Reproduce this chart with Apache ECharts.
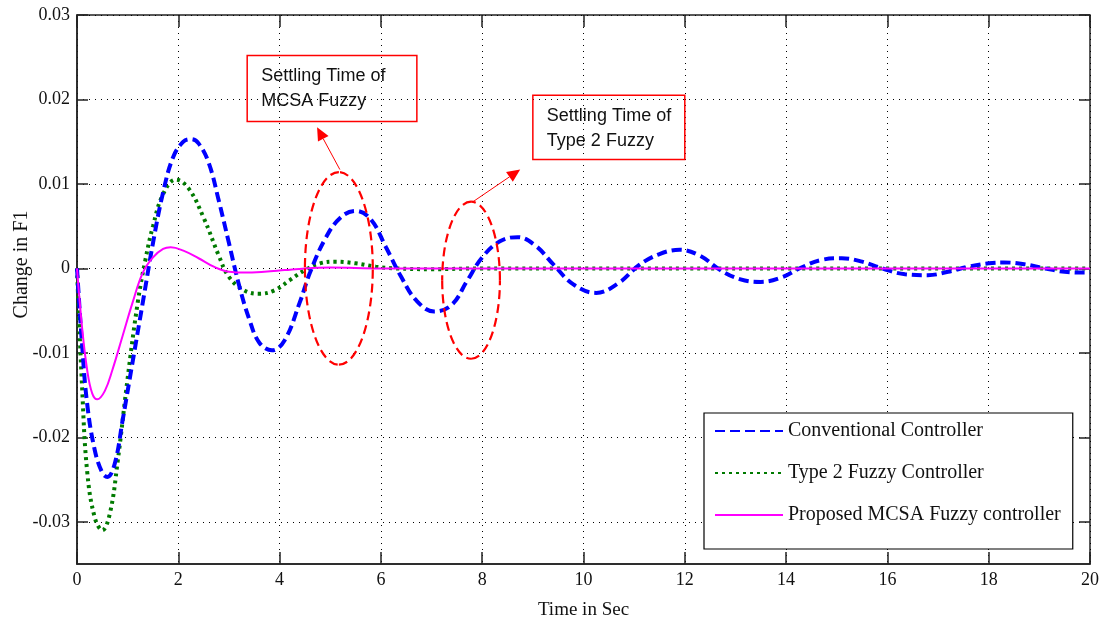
<!DOCTYPE html>
<html lang="en">
<head>
<meta charset="utf-8">
<title>Change in F1</title>
<script src="https://cdn.jsdelivr.net/npm/echarts@6/dist/echarts.min.js"></script>
<style>
    html, body { margin: 0; padding: 0; background: #fff; }
    #container { width: 1103px; height: 619px; }
</style>
</head>
<body>
<div id="container"></div>
<script>
    // values (time in s, change in F1)
    const convTime = [0, 0.1, 0.2, 0.35, 0.5, 0.6, 0.75, 0.9, 1.1, 1.3, 1.5, 1.7, 1.9, 2.1, 2.25, 2.4, 2.6, 2.8, 3.0, 3.2, 3.4, 3.6, 3.85, 4.1, 4.4, 4.6, 4.9, 5.2, 5.5, 5.8, 6.1, 6.4, 6.7, 7.05, 7.4, 7.7, 8.0, 8.35, 8.7, 9.05, 9.4, 9.8, 10.25, 10.7, 11.1, 11.5, 11.9, 12.3, 12.7, 13.1, 13.5, 13.9, 14.3, 14.7, 15.1, 15.5, 15.9, 16.35, 16.8, 17.2, 17.6, 18.0, 18.3, 18.7, 19.1, 19.5, 19.9, 20];
    const convValue = [0, -0.009, -0.016, -0.0215, -0.0242, -0.0247, -0.023, -0.018, -0.011, -0.004, 0.003, 0.009, 0.0132, 0.015, 0.0153, 0.0148, 0.0125, 0.008, 0.003, -0.002, -0.006, -0.0088, -0.0097, -0.0085, -0.004, -0.0005, 0.0035, 0.006, 0.0068, 0.0058, 0.0025, -0.001, -0.0038, -0.0051, -0.0043, -0.0015, 0.0013, 0.0032, 0.0037, 0.0027, 0.0005, -0.0019, -0.0029, -0.0017, 0.0004, 0.0017, 0.0022, 0.0015, -0.0002, -0.0013, -0.0016, -0.0011, 0.0001, 0.001, 0.0012, 0.0008, 0, -0.0007, -0.0008, -0.0004, 0.0002, 0.0006, 0.0007, 0.0005, 0, -0.0004, -0.0005, -0.0005];

    const type2Time = [0, 0.1, 0.2, 0.35, 0.5, 0.65, 0.8, 1.0, 1.2, 1.35, 1.5, 1.7, 1.95, 2.2, 2.5, 2.8, 3.0, 3.3, 3.6, 3.9, 4.2, 4.5, 4.8, 5.1, 5.5, 5.9, 6.3, 7, 8, 10, 12, 14, 16, 18, 20];
    const type2Value = [0, -0.014, -0.024, -0.0295, -0.031, -0.029, -0.023, -0.013, -0.004, 0.001, 0.005, 0.0088, 0.0105, 0.0095, 0.006, 0.0015, -0.001, -0.0026, -0.003, -0.0026, -0.0014, -0.0002, 0.0006, 0.0008, 0.0006, 0.0002, 0, -0.0001, 0, 0, 0, 0, 0, 0, 0];

    const mcsaTime = [0, 0.1, 0.2, 0.3, 0.4, 0.55, 0.7, 0.9, 1.1, 1.3, 1.5, 1.7, 1.85, 2.1, 2.4, 2.7, 3.0, 3.3, 3.7, 4.1, 4.5, 5, 6, 8, 10, 12, 14, 16, 18, 20];
    const mcsaValue = [0, -0.007, -0.012, -0.0148, -0.0155, -0.0145, -0.012, -0.008, -0.004, -0.0005, 0.0013, 0.0023, 0.0025, 0.0021, 0.0012, 0.0002, -0.0004, -0.0005, -0.0004, -0.0002, 0, 0.0001, 0, 0, 0, 0, 0, 0, 0, 0];

    const seriesNames = ["Conventional Controller", "Type 2 Fuzzy Controller", "Proposed MCSA Fuzzy controller"];
    const yTicks = [-0.03, -0.02, -0.01, 0, 0.01, 0.02, 0.03];

    function zip(xs, ys) {
        return xs.map((x, i) => [x, ys[i]]);
    }

    const serif = "Liberation Serif";
    const gridLine = { show: true, lineStyle: { color: "#000", type: [1, 5], width: 1 } };
    const tickStyle = { color: "#222", width: 1.5 };

    const option = {
        animation: false,
        grid: {
            left: 77, right: 13, top: 15, bottom: 55,
            outerBoundsMode: "none", containLabel: false,
            show: true, borderColor: "#222", borderWidth: 1.5
        },
        legend: {
            orient: "vertical",
            left: 704, top: 413,
            itemWidth: 68, itemHeight: 14, itemGap: 22,
            padding: [8, 12, 24, 10],
            backgroundColor: "#fff",
            borderColor: "#000", borderWidth: 1.2,
            itemStyle: { opacity: 0 },
            textStyle: { fontFamily: serif, fontSize: 20, color: "#111" },
            data: seriesNames
        },
        xAxis: [{
            type: "value", min: 0, max: 20, interval: 2,
            name: "Time in Sec", nameLocation: "middle", nameGap: 37,
            nameTextStyle: { fontFamily: serif, fontSize: 19, color: "#111" },
            axisLine: { onZero: false, lineStyle: tickStyle },
            axisTick: { inside: true, length: 12, lineStyle: tickStyle },
            axisLabel: { fontFamily: serif, fontSize: 18, color: "#111", margin: 7 },
            splitLine: gridLine
        }, {
            type: "value", min: 0, max: 20, interval: 2, position: "top",
            axisLine: { show: false, onZero: false },
            axisTick: { inside: true, length: 12, lineStyle: tickStyle },
            axisLabel: { show: false },
            splitLine: { show: false }
        }],
        yAxis: [{
            type: "value", min: -0.035, max: 0.03,
            name: "Change in F1", nameLocation: "middle", nameGap: 45, nameMoveOverlap: false,
            nameTextStyle: { fontFamily: serif, fontSize: 20, color: "#111", padding: [0, 0, 0, 50] },
            axisLine: { show: true, onZero: false, lineStyle: tickStyle },
            axisTick: { inside: true, length: 11, customValues: yTicks, lineStyle: tickStyle },
            axisLabel: { fontFamily: serif, fontSize: 18, color: "#111", margin: 7, customValues: yTicks },
            splitLine: gridLine
        }, {
            type: "value", min: -0.035, max: 0.03, position: "right",
            axisLine: { show: false, onZero: false },
            axisTick: { inside: true, length: 11, customValues: yTicks, lineStyle: tickStyle },
            axisLabel: { show: false, customValues: yTicks },
            splitLine: { show: false }
        }],
        series: [{
            name: seriesNames[0], type: "line", smooth: 0.4, showSymbol: false, symbol: "none",
            color: "#0000ff", z: 3,
            lineStyle: { color: "#0000ff", width: 4, type: [10, 5] },
            data: zip(convTime, convValue)
        }, {
            name: seriesNames[1], type: "line", smooth: 0.4, showSymbol: false, symbol: "none",
            color: "#007a00", z: 2,
            lineStyle: { color: "#007a00", width: 4, type: [3, 4] },
            data: zip(type2Time, type2Value)
        }, {
            name: seriesNames[2], type: "line", smooth: 0.4, showSymbol: false, symbol: "none",
            color: "#ff00ff", z: 4,
            lineStyle: { color: "#ff00ff", width: 2 },
            data: zip(mcsaTime, mcsaValue)
        }]
    };

    const chart = echarts.init(document.getElementById("container"));
    chart.setOption(option);

    // annotations, placed in data units and converted to pixels
    const red = "#ff0000";
    const toPx = p => chart.convertToPixel({ gridIndex: 0 }, p);

    function ellipse(cx, cy, hw, hh) {
        const c = toPx([cx, cy]);
        const rx = toPx([cx + hw, cy])[0] - c[0];
        const ry = c[1] - toPx([cx, cy + hh])[1];
        const k = 0.5523;
        const style = { stroke: red, lineWidth: 2.2, lineDash: [9, 5], fill: null };
        const quads = [
            [c[0] + rx, c[1], c[0] + rx, c[1] - k * ry, c[0] + k * rx, c[1] - ry, c[0], c[1] - ry],
            [c[0], c[1] - ry, c[0] - k * rx, c[1] - ry, c[0] - rx, c[1] - k * ry, c[0] - rx, c[1]],
            [c[0] - rx, c[1], c[0] - rx, c[1] + k * ry, c[0] - k * rx, c[1] + ry, c[0], c[1] + ry],
            [c[0], c[1] + ry, c[0] + k * rx, c[1] + ry, c[0] + rx, c[1] + k * ry, c[0] + rx, c[1]]
        ];
        return quads.map(q => ({
            type: "bezierCurve", z: 10,
            shape: { x1: q[0], y1: q[1], cpx1: q[2], cpy1: q[3], cpx2: q[4], cpy2: q[5], x2: q[6], y2: q[7] },
            style: style
        }));
    }

    function arrow(from, to) {
        const a = toPx(from);
        const b = toPx(to);
        const dx = b[0] - a[0], dy = b[1] - a[1];
        const len = Math.sqrt(dx * dx + dy * dy);
        const ux = dx / len, uy = dy / len;
        const headLen = 13, headW = 6;
        const bx = b[0] - ux * headLen, by = b[1] - uy * headLen;
        return [{
            type: "line", z: 10,
            shape: { x1: a[0], y1: a[1], x2: bx, y2: by },
            style: { stroke: red, lineWidth: 1 }
        }, {
            type: "polygon", z: 10,
            shape: { points: [b, [bx - uy * headW, by + ux * headW], [bx + uy * headW, by - ux * headW]] },
            style: { fill: red }
        }];
    }

    function labelBox(topLeft, bottomRight, text) {
        const p = toPx(topLeft);
        const q = toPx(bottomRight);
        return [{
            type: "rect", z: 10,
            shape: { x: p[0], y: p[1], width: q[0] - p[0], height: q[1] - p[1] },
            style: { stroke: red, lineWidth: 1.5, fill: null }
        }, {
            type: "text", z: 11,
            x: p[0] + 14, y: p[1] + 8,
            style: { text: text, fill: "#111", font: "18px 'Liberation Sans'", lineHeight: 25 }
        }];
    }

    chart.setOption({
        graphic: [
            ...ellipse(5.17, 0, 0.67, 0.0114),
            ...ellipse(7.78, -0.0014, 0.57, 0.0093),
            ...arrow([5.19, 0.0117], [4.74, 0.0167]),
            ...arrow([7.82, 0.0079], [8.75, 0.0117]),
            ...labelBox([3.36, 0.0252], [6.71, 0.0174], "Settling Time of\nMCSA Fuzzy"),
            ...labelBox([9.0, 0.0205], [12.0, 0.0129], "Settling Time of\nType 2 Fuzzy")
        ]
    });
</script>
</body>
</html>
